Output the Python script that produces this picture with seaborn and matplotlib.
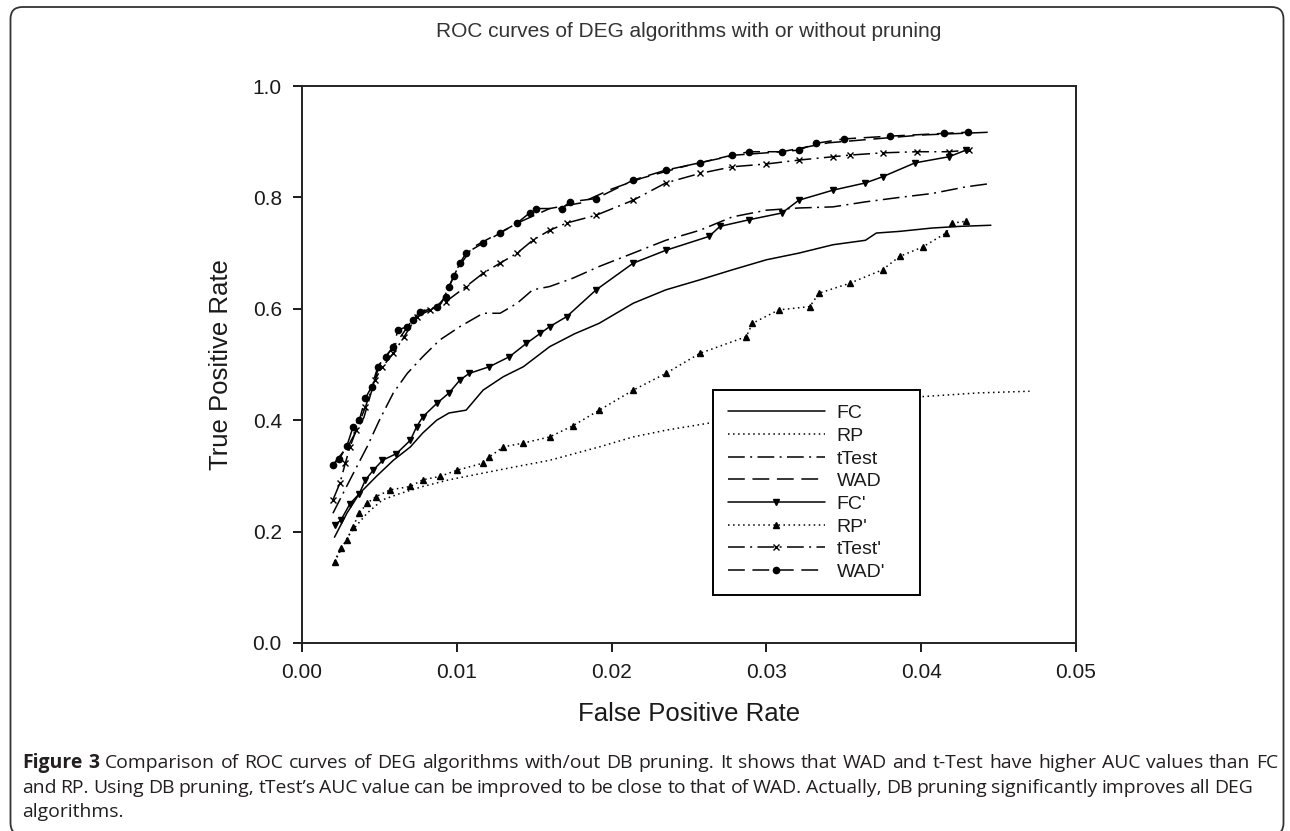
import numpy as np
import pandas as pd
import seaborn as sns
import matplotlib
matplotlib.use("Agg")
from matplotlib import pyplot as plt
from matplotlib.patches import FancyBboxPatch
from matplotlib.transforms import IdentityTransform

# values (false positive rate, true positive rate)
fc_x = [.0021, .0029, .0037, .0048, .0059, .0070, .0078, .0087, .0095, .0106, .0117, .0130, .0143, .0160,
        .0176, .0192, .0214, .0235, .0257, .0278, .0300, .0321, .0343, .0364, .0371, .0386, .0407, .0425, .0445]
fc_y = [.190, .233, .268, .299, .328, .352, .377, .400, .413, .418, .454, .478, .496, .532,
        .555, .574, .610, .634, .652, .670, .688, .700, .715, .723, .736, .739, .745, .748, .750]

rp_x = [.0021, .0031, .0042, .0052, .0063, .0078, .0095, .0117, .0139, .0160, .0192, .0214, .0235,
        .0270, .0310, .0350, .0399, .0437, .0470]
rp_y = [.146, .197, .233, .257, .268, .281, .293, .305, .317, .328, .352, .370, .382,
        .398, .415, .430, .442, .449, .452]

ttest_x = [.0020, .0031, .0042, .0050, .0059, .0068, .0078, .0089, .0102, .0117, .0128, .0139, .0149, .0160,
           .0175, .0192, .0214, .0235, .0257, .0278, .0300, .0321, .0343, .0364, .0386, .0407, .0429, .0445]
ttest_y = [.233, .293, .352, .400, .449, .484, .514, .544, .568, .592, .592, .610, .634, .640,
           .655, .676, .700, .723, .741, .765, .777, .781, .783, .792, .800, .807, .819, .825]

wad_x = [.0020, .0030, .0040, .0050, .0060, .0070, .0080, .0090, .0100, .0110, .0120, .0140, .0160, .0180,
         .0200, .0220, .0250, .0280, .0310, .0340, .0370, .0400, .0444]
wad_y = [.320, .355, .405, .500, .535, .575, .597, .610, .670, .710, .725, .755, .780, .790,
         .815, .835, .858, .876, .882, .898, .905, .912, .917]

fc2_x = [.0021, .0025, .0031, .0037, .0041, .0046, .0052, .0061, .0070, .0074, .0078, .0087, .0095, .0102,
         .0108, .0121, .0134, .0145, .0154, .0160, .0171, .0190, .0214, .0235, .0263, .0270, .0289, .0310,
         .0321, .0343, .0364, .0375, .0396, .0418, .0429]
fc2_y = [.212, .220, .250, .268, .293, .310, .328, .340, .364, .388, .406, .430, .449, .472,
         .484, .496, .514, .538, .556, .568, .586, .634, .682, .705, .730, .748, .760, .772,
         .795, .813, .826, .837, .862, .873, .885]

rp2_x = [.0021, .0025, .0029, .0033, .0037, .0042, .0048, .0057, .0070, .0078, .0089, .0100, .0117, .0121,
         .0130, .0143, .0160, .0175, .0192, .0214, .0235, .0257, .0287, .0291, .0308, .0328, .0334, .0354,
         .0375, .0386, .0401, .0416, .0420, .0429]
rp2_y = [.146, .170, .185, .209, .233, .251, .263, .275, .281, .293, .299, .310, .323, .334,
         .352, .359, .370, .390, .418, .454, .484, .520, .550, .574, .598, .604, .628, .646,
         .670, .694, .711, .736, .754, .757]

ttest2_x = [.0020, .00245, .0028, .0031, .0035, .0041, .0047, .0052, .0059, .0066, .0074, .0083, .0093, .0106,
            .0117, .0128, .0139, .0149, .0160, .0171, .0190, .0214, .0235, .0257, .0278, .0300, .0321, .0343,
            .0354, .0375, .0397, .0418, .0431]
ttest2_y = [.257, .287, .323, .352, .382, .424, .472, .496, .520, .550, .586, .598, .613, .640,
            .664, .682, .700, .723, .741, .754, .768, .795, .826, .843, .855, .860, .867, .873,
            .876, .880, .882, .882, .885]

wad2_x = [.00198, .0024, .0029, .0033, .0037, .0041, .0045, .0049, .0054, .0059, .0062, .0068, .0072, .0076,
          .0087, .0093, .0095, .0098, .0102, .0106, .0117, .0128, .0139, .0147, .0151, .0168, .0173, .0190,
          .0214, .0235, .0257, .0278, .0289, .0310, .0321, .0332, .0350, .0380, .0415, .0430]
wad2_y = [.320, .330, .354, .388, .400, .440, .460, .496, .514, .532, .562, .568, .580, .595,
          .604, .622, .640, .658, .682, .700, .718, .736, .754, .772, .780, .780, .792, .798,
          .831, .849, .862, .876, .882, .882, .885, .897, .905, .910, .915, .917]

names = ["FC", "RP", "tTest", "WAD", "FC'", "RP'", "tTest'", "WAD'"]

x_ticks = [0.00, 0.01, 0.02, 0.03, 0.04, 0.05]
x_tick_labels = ["0.00", "0.01", "0.02", "0.03", "0.04", "0.05"]
y_ticks = [0.0, 0.2, 0.4, 0.6, 0.8, 1.0]
y_tick_labels = ["0.0", "0.2", "0.4", "0.6", "0.8", "1.0"]

title = "ROC curves of DEG algorithms with or without pruning"
caption = [
    [("Figure 3", "bold"), ("Comparison of ROC curves of DEG algorithms with/out DB pruning. It shows that "
                             "WAD and t-Test have higher AUC values than FC", "normal")],
    [("and RP. Using DB pruning, tTest\u2019s AUC value can be improved to be close to that of WAD. "
      "Actually, DB pruning significantly improves all DEG", "normal")],
    [("algorithms.", "normal")],
]

sns.set_style("ticks")
plt.rcParams['font.family'] = ['Liberation Sans', 'DejaVu Sans']

fig = plt.figure(figsize=(12.9, 8.31), dpi=100)
ax = fig.add_axes([302 / 1290, 1 - 643 / 831, 774 / 1290, 557 / 831])

dot = (0, (1, 2.3))
dashdot = (0, (11, 3.5, 1.3, 3.5))
dash = (0, (11, 5))
styles = {
    "FC": ("-", None, 0), "RP": (dot, None, 0), "tTest": (dashdot, None, 0), "WAD": (dash, None, 0),
    "FC'": ("-", "v", 4.8), "RP'": (dot, "^", 4.8), "tTest'": (dashdot, "x", 4.8), "WAD'": (dash, "o", 4.5),
}
series = [(fc_x, fc_y), (rp_x, rp_y), (ttest_x, ttest_y), (wad_x, wad_y),
          (fc2_x, fc2_y), (rp2_x, rp2_y), (ttest2_x, ttest2_y), (wad2_x, wad2_y)]

for name, (xs, ys) in zip(names, series):
    ls, mk, ms = styles[name]
    sns.lineplot(x=xs, y=ys, ax=ax, sort=False, estimator=None, color="black",
                 linestyle=ls, marker=mk, markersize=ms, markeredgecolor="black",
                 markeredgewidth=1.0, linewidth=1.1, label=name)

ax.set_xlim(0, 0.05)
ax.set_ylim(0, 1.0)
ax.set_xticks(x_ticks, labels=x_tick_labels)
ax.set_yticks(y_ticks, labels=y_tick_labels)
ax.tick_params(axis="both", direction="out", length=6.5, width=1.4, pad=8,
               labelsize=15, colors="#1a1a1a")
for sp in ax.spines.values():
    sp.set_visible(True)
    sp.set_linewidth(1.4)
    sp.set_color("#222222")

ax.set_xlabel("False Positive Rate", fontsize=18.5, labelpad=14.5, color="#1a1a1a")
ax.set_ylabel("True Positive Rate", fontsize=18.5, labelpad=14, color="#1a1a1a")
ax.set_title(title, fontsize=15, pad=35, color="#333333")

leg = ax.legend(loc="upper left", bbox_to_anchor=((713 - 302) / 774, 0, (920 - 713) / 774, (643 - 390) / 557),
                mode="expand", borderaxespad=0, fontsize=14, fancybox=False, framealpha=1,
                edgecolor="black", handlelength=5.0, handletextpad=0.6, labelspacing=0.26,
                borderpad=0.75, numpoints=1)
leg.get_frame().set_linewidth(1.4)
for t in leg.get_texts():
    t.set_color("#1a1a1a")

# rounded border round the whole figure
box = FancyBboxPatch((10.5, -4), 1273, 828, boxstyle="round,pad=0,rounding_size=12",
                     transform=IdentityTransform(), fill=False, edgecolor="#333333", linewidth=1.3)
fig.add_artist(box)

# caption, sized so the first line fills the width, first two lines justified
renderer = fig.canvas.get_renderer()
left = 22
line_ends = [1278, 1253, None]
baselines = [768, 793, 817]
cap_font = dict(family=["Open Sans", "DejaVu Sans"], color="#231f20", va="baseline")

lines = []
for li, line in enumerate(caption):
    words = []
    for chunk, weight in line:
        for w in chunk.split(" "):
            words.append((w, weight))
    y = 1 - baselines[li] / 831
    lines.append([fig.text(0, y, w, fontweight=wt, fontsize=12, **cap_font) for w, wt in words])

probe = fig.text(0, 0, "a a", fontsize=12, **cap_font)
probe2 = fig.text(0, 0, "aa", fontsize=12, **cap_font)
space = probe.get_window_extent(renderer).width - probe2.get_window_extent(renderer).width
probe.remove()
probe2.remove()
first = lines[0]
natural = sum(t.get_window_extent(renderer).width for t in first) + space * (len(first) - 1)
size = 12 * (line_ends[0] - left) / natural * 0.985
space *= size / 12

for li, texts in enumerate(lines):
    for t in texts:
        t.set_fontsize(size)
    widths = [t.get_window_extent(renderer).width for t in texts]
    if line_ends[li] is not None and len(texts) > 1:
        gap = (line_ends[li] - left - sum(widths)) / (len(texts) - 1)
    else:
        gap = space
    xpos = left
    for t, wd in zip(texts, widths):
        t.set_x(xpos / 1290)
        xpos += wd + gap

fig.savefig("out.png", dpi=100)
